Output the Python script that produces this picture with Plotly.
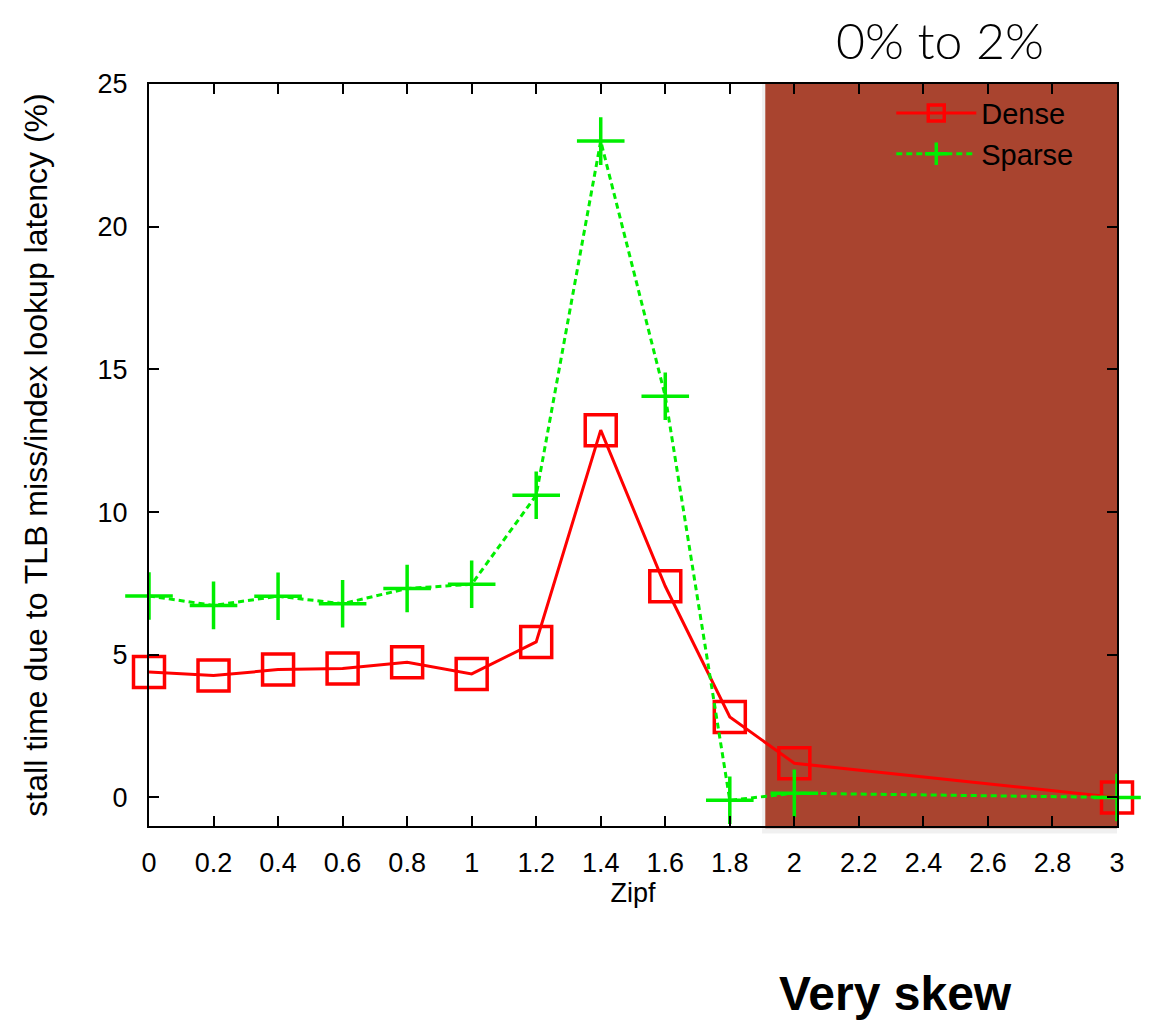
import plotly.graph_objects as go

zipf = [0, 0.2, 0.4, 0.6, 0.8, 1.0, 1.2, 1.4, 1.6, 1.8, 2.0, 3.0]
dense = [4.4, 4.27, 4.48, 4.52, 4.74, 4.33, 5.45, 12.87, 7.4, 2.82, 1.2, 0.0]
sparse = [7.06, 6.73, 7.05, 6.79, 7.32, 7.47, 10.59, 23.0, 14.06, -0.1, 0.15, 0.0]

x_ticks = [0, 0.2, 0.4, 0.6, 0.8, 1, 1.2, 1.4, 1.6, 1.8, 2, 2.2, 2.4, 2.6, 2.8, 3]
x_labels = ["0", "0.2", "0.4", "0.6", "0.8", "1", "1.2", "1.4", "1.6", "1.8",
            "2", "2.2", "2.4", "2.6", "2.8", "3"]
y_ticks = [0, 5, 10, 15, 20, 25]

FONT = "Liberation Sans, Arial, Helvetica, sans-serif"

fig = go.Figure()
fig.add_trace(go.Scatter(
    x=zipf, y=dense, name="Dense", mode="lines+markers",
    line=dict(color="#ff0000", width=3),
    marker=dict(symbol="square-open", size=31, color="#ff0000",
                line=dict(width=3.5, color="#ff0000")),
    cliponaxis=False,
))
fig.add_trace(go.Scatter(
    x=zipf, y=sparse, name="Sparse", mode="lines+markers",
    line=dict(color="#00ee00", width=3, dash="6px,4px"),
    marker=dict(symbol="cross-thin-open", size=34, color="#00ee00",
                line=dict(width=3.5, color="#00ee00")),
    cliponaxis=False,
))

# shaded "very skew" region with a soft shadow
fig.add_shape(type="rect", xref="x", yref="paper", x0=1.9, x1=3.0, y0=-0.01, y1=1.0,
              fillcolor="rgba(0,0,0,0.06)", line=dict(width=0), layer="below")
fig.add_shape(type="rect", xref="x", yref="paper", x0=1.91, x1=3.0, y0=-0.003, y1=1.0,
              fillcolor="#a9442f", line=dict(width=0), layer="below")

fig.update_layout(
    width=1157, height=1022,
    margin=dict(l=149, r=40, t=84, b=196),
    paper_bgcolor="white", plot_bgcolor="white",
    font=dict(family=FONT, size=26, color="black"),
    showlegend=True,
    legend=dict(x=0.96, y=0.995, xanchor="right", yanchor="top",
                bgcolor="rgba(0,0,0,0)", font=dict(size=29, family=FONT),
                itemwidth=80, tracegroupgap=0),
    xaxis=dict(range=[0, 3], tickvals=x_ticks, ticktext=x_labels,
               ticks="inside", ticklen=10, tickwidth=1.5, tickcolor="black",
               showline=True, linecolor="black", linewidth=2, mirror="allticks",
               showgrid=False, zeroline=False, ticklabelstandoff=12,
               tickfont=dict(size=27, family=FONT),
               title=dict(text="Zipf", font=dict(size=27, family=FONT), standoff=2)),
    yaxis=dict(range=[-1, 25], tickvals=y_ticks,
               ticks="inside", ticklen=10, tickwidth=1.5, tickcolor="black",
               showline=True, linecolor="black", linewidth=2, mirror="allticks",
               showgrid=False, zeroline=False, ticklabelstandoff=14,
               tickfont=dict(size=27, family=FONT),
               title=dict(text="stall time due to TLB miss/index lookup latency (%)",
                          font=dict(size=32, family=FONT), standoff=40)),
    annotations=[
        dict(text="0% to 2%", xref="paper", yref="paper", x=(940 - 149) / 968,
             y=1 + (84 - 40) / 742, xanchor="center", yanchor="middle", showarrow=False,
             font=dict(size=50, family="Lato, Open Sans, sans-serif", weight=300, color="black")),
        dict(text="<b>Very skew</b>", xref="paper", yref="paper", x=(895 - 149) / 968,
             y=-(993 - 826) / 742, xanchor="center", yanchor="middle", showarrow=False,
             font=dict(size=48, family=FONT, color="black")),
    ],
)

fig.write_html("out.html")
